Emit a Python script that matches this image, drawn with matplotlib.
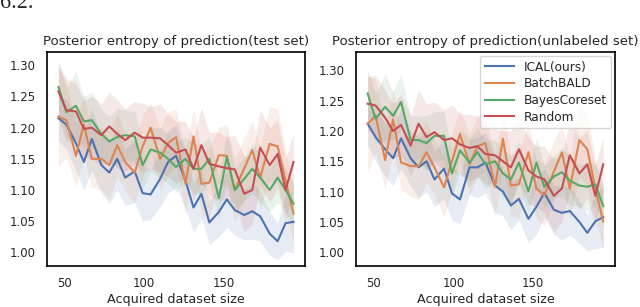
import numpy as np
import matplotlib as mpl
mpl.use('Agg')
import matplotlib.pyplot as plt

# acquired dataset size
sizes = [46, 51, 57, 62, 67, 73, 78, 83, 88, 94, 99, 104, 110, 115, 120,
         126, 131, 136, 141, 147, 152, 157, 163, 168, 173, 179, 184, 189, 194]

# test set: mean posterior entropy
test_ical = [1.215, 1.205, 1.175, 1.145, 1.182, 1.140, 1.128, 1.150, 1.120, 1.130,
             1.095, 1.093, 1.118, 1.145, 1.155, 1.115, 1.072, 1.094, 1.048, 1.065,
             1.085, 1.068, 1.060, 1.066, 1.058, 1.030, 1.018, 1.047, 1.049]
test_bald = [1.218, 1.212, 1.155, 1.205, 1.150, 1.150, 1.140, 1.172, 1.145, 1.128,
             1.170, 1.200, 1.150, 1.175, 1.185, 1.110, 1.186, 1.110, 1.112, 1.156,
             1.155, 1.100, 1.135, 1.164, 1.120, 1.174, 1.170, 1.115, 1.062]
test_core = [1.265, 1.225, 1.235, 1.210, 1.212, 1.190, 1.178, 1.185, 1.188, 1.186,
             1.140, 1.165, 1.160, 1.150, 1.137, 1.150, 1.134, 1.134, 1.150, 1.087,
             1.153, 1.100, 1.118, 1.134, 1.120, 1.100, 1.120, 1.100, 1.078]
test_rand = [1.258, 1.228, 1.226, 1.198, 1.200, 1.188, 1.202, 1.190, 1.180, 1.192,
             1.184, 1.184, 1.183, 1.172, 1.160, 1.165, 1.134, 1.172, 1.142, 1.138,
             1.135, 1.133, 1.094, 1.100, 1.168, 1.140, 1.158, 1.100, 1.145]

# unlabeled set: mean posterior entropy
unl_ical = [1.212, 1.190, 1.170, 1.155, 1.188, 1.155, 1.140, 1.150, 1.120, 1.138,
            1.097, 1.087, 1.140, 1.140, 1.148, 1.110, 1.100, 1.077, 1.088, 1.055,
            1.075, 1.098, 1.070, 1.065, 1.068, 1.050, 1.032, 1.051, 1.058]
unl_bald = [1.212, 1.225, 1.152, 1.219, 1.148, 1.142, 1.142, 1.165, 1.140, 1.107,
            1.150, 1.195, 1.145, 1.175, 1.180, 1.108, 1.187, 1.110, 1.112, 1.165,
            1.105, 1.094, 1.133, 1.165, 1.105, 1.185, 1.170, 1.105, 1.051]
unl_core = [1.262, 1.220, 1.240, 1.225, 1.248, 1.185, 1.185, 1.180, 1.192, 1.192,
            1.130, 1.168, 1.148, 1.165, 1.145, 1.150, 1.130, 1.120, 1.148, 1.100,
            1.148, 1.108, 1.125, 1.132, 1.118, 1.110, 1.108, 1.112, 1.076]
unl_rand = [1.245, 1.242, 1.222, 1.200, 1.210, 1.176, 1.212, 1.190, 1.198, 1.185,
            1.188, 1.178, 1.172, 1.175, 1.162, 1.160, 1.150, 1.140, 1.170, 1.135,
            1.125, 1.120, 1.093, 1.105, 1.160, 1.130, 1.145, 1.093, 1.145]

# half-width of the shaded bands (std over runs)
std_ical = [0.035, 0.040, 0.045, 0.045, 0.050, 0.045, 0.050, 0.050, 0.045, 0.050,
            0.045, 0.040, 0.045, 0.050, 0.050, 0.045, 0.040, 0.040, 0.035, 0.040,
            0.045, 0.040, 0.040, 0.045, 0.040, 0.035, 0.030, 0.045, 0.050]
std_bald = [0.080, 0.060, 0.050, 0.050, 0.045, 0.050, 0.055, 0.050, 0.045, 0.050,
            0.050, 0.040, 0.050, 0.050, 0.045, 0.050, 0.045, 0.050, 0.055, 0.045,
            0.050, 0.050, 0.050, 0.045, 0.050, 0.060, 0.060, 0.050, 0.045]
std_core = [0.040, 0.040, 0.055, 0.040, 0.045, 0.040, 0.040, 0.045, 0.040, 0.040,
            0.040, 0.035, 0.040, 0.040, 0.040, 0.035, 0.040, 0.040, 0.035, 0.035,
            0.040, 0.035, 0.035, 0.040, 0.040, 0.035, 0.040, 0.035, 0.035]
std_rand = [0.045, 0.050, 0.045, 0.045, 0.050, 0.050, 0.055, 0.055, 0.050, 0.050,
            0.055, 0.050, 0.055, 0.050, 0.050, 0.045, 0.050, 0.060, 0.050, 0.055,
            0.050, 0.055, 0.060, 0.055, 0.060, 0.060, 0.055, 0.050, 0.045]

names = ['ICAL(ours)', 'BatchBALD', 'BayesCoreset', 'Random']
colors = ['#4C72B0', '#DD8452', '#55A868', '#C44E52']
stds = [std_ical, std_bald, std_core, std_rand]

panels = [
    ('Posterior entropy of prediction(test set)',
     [test_ical, test_bald, test_core, test_rand]),
    ('Posterior entropy of prediction(unlabeled set)',
     [unl_ical, unl_bald, unl_core, unl_rand]),
]

plt.rcParams['font.family'] = 'DejaVu Sans'
plt.rcParams['text.color'] = '#262626'
plt.rcParams['xtick.color'] = '#262626'
plt.rcParams['ytick.color'] = '#262626'
plt.rcParams['axes.labelcolor'] = '#262626'

fig = plt.figure(figsize=(6.4, 3.07), dpi=100)
boxes = [[0.073, 0.133, 0.404, 0.697], [0.556, 0.133, 0.405, 0.697]]
x = np.array(sizes)

for i, (title, series) in enumerate(panels):
    ax = fig.add_axes(boxes[i])
    for ys, sd, c, n in zip(series, stds, colors, names):
        ys = np.array(ys)
        sd = np.array(sd)
        ax.fill_between(x, ys - sd, ys + sd, color=c, alpha=0.13, lw=0)
        ax.plot(x, ys, color=c, lw=1.5, label=n)
    ax.set_xticks([50, 100, 150])
    ax.set_yticks([1.00, 1.05, 1.10, 1.15, 1.20, 1.25, 1.30])
    ax.set_yticklabels(['1.00', '1.05', '1.10', '1.15', '1.20', '1.25', '1.30'])
    if i == 0:
        ax.set_ylim(0.978, 1.321)
    else:
        ax.set_ylim(0.977, 1.330)
    ax.tick_params(length=0, labelsize=8.5, pad=8)
    for sp in ax.spines.values():
        sp.set_color('black')
        sp.set_linewidth(1.2)
    ax.set_title(title, fontsize=9.6, pad=5)
    ax.set_xlabel('Acquired dataset size', fontsize=9.2, labelpad=2)
    if i == 1:
        ax.legend(loc='upper right', fontsize=8.7, handlelength=2.4,
                  labelspacing=0.3, borderaxespad=0.3, framealpha=0.8)

# section number from the page above, cut by the crop
fig.text(0.0, 0.975, '6.2.', fontsize=16, va='baseline', family='Liberation Serif')

plt.savefig('out.png', dpi=100)
